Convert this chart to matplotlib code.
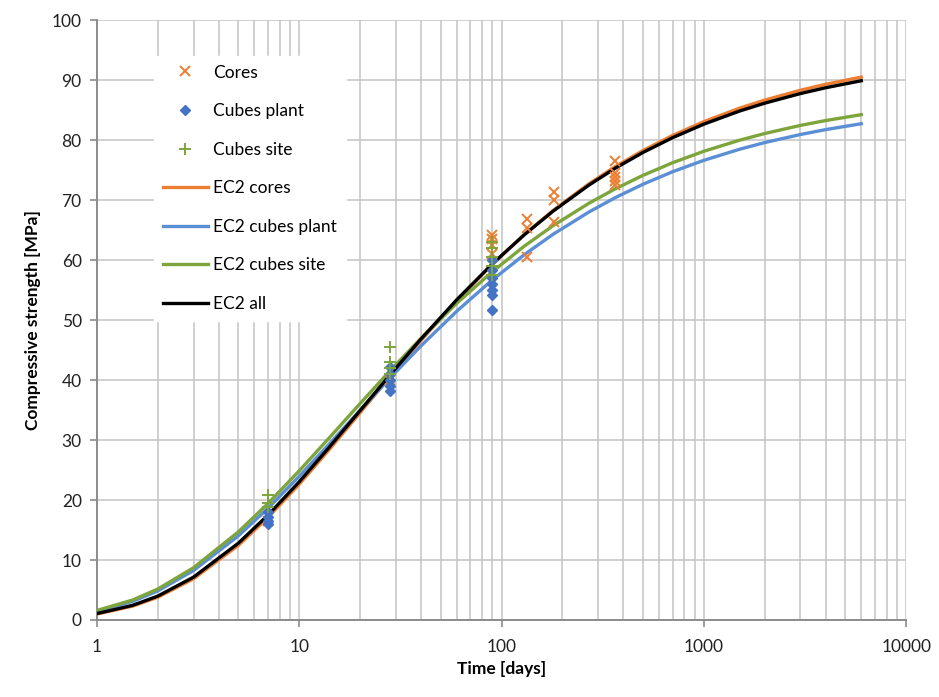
import matplotlib
matplotlib.use("Agg")
import matplotlib.pyplot as plt
from matplotlib.ticker import LogLocator, FixedLocator, NullFormatter

plt.rcParams['font.family'] = ['Lato', 'DejaVu Sans']

# ---- measured points ----
cores_t = [7, 28, 90, 90, 90, 90, 134, 134, 134, 181, 181, 181, 365, 365, 365, 365, 365]
cores_v = [16.5, 40.0, 64.2, 63.5, 62.5, 61.0, 66.8, 65.3, 60.5, 71.3, 70.0, 66.3, 76.5, 74.5, 73.8, 73.2, 72.6]

plant_t = [7, 7, 7, 7, 28, 28, 28, 28, 28, 90, 90, 90, 90, 90, 90, 90]
plant_v = [18.0, 17.2, 16.5, 16.0, 42.2, 41.0, 40.0, 39.0, 38.2, 60.0, 58.3, 57.0, 56.0, 55.0, 54.2, 51.7]

site_t = [7, 7, 7, 28, 28, 28, 28, 90, 90, 90, 90, 90]
site_v = [20.8, 19.5, 18.8, 45.5, 43.0, 42.0, 41.0, 63.0, 62.0, 60.5, 59.0, 57.5]

# ---- EC2 curves ----
curve_t = [1, 1.5, 2, 3, 5, 7, 10, 14, 20, 28, 40, 60, 90, 130, 180, 270, 365,
           500, 700, 1000, 1500, 2000, 3000, 4000, 6000]
ec2_cores = [1.00, 2.31, 3.80, 6.87, 12.45, 17.09, 22.65, 28.33, 34.58, 40.50, 46.63,
             53.24, 59.32, 64.31, 68.30, 72.71, 75.59, 78.27, 80.78, 83.09, 85.33,
             86.68, 88.32, 89.31, 90.51]
ec2_plant = [1.47, 3.10, 4.85, 8.25, 14.03, 18.62, 23.97, 29.27, 34.98, 40.30, 45.72,
             51.47, 56.70, 60.95, 64.32, 68.01, 70.42, 72.65, 74.73, 76.64, 78.48,
             79.60, 80.94, 81.76, 82.74]
ec2_site = [1.59, 3.33, 5.17, 8.71, 14.69, 19.41, 24.88, 30.29, 36.10, 41.50, 46.98,
            52.80, 58.07, 62.37, 65.76, 69.47, 71.89, 74.13, 76.23, 78.15, 79.99,
            81.11, 82.46, 83.27, 84.25]
ec2_all = [1.07, 2.44, 3.99, 7.14, 12.81, 17.48, 23.05, 28.72, 34.93, 40.80, 46.86,
           53.38, 59.36, 64.27, 68.18, 72.50, 75.33, 77.95, 80.41, 82.67, 84.85,
           86.17, 87.77, 88.74, 89.91]

x_ticks = [1, 10, 100, 1000, 10000]
y_ticks = list(range(0, 101, 10))

ORANGE = '#ED7D31'
BLUE_L = '#5B8FD5'
BLUE_M = '#4472C4'
GREEN = '#7DA53C'
GRID = '#C8C8C8'
AXC = '#8C8C8C'

fig = plt.figure(figsize=(9.39, 6.97), dpi=100)
ax = fig.add_axes([0.1033, 0.1105, 0.8617, 0.8605])

ax.plot(cores_t, cores_v, linestyle='none', marker='x', color=ORANGE, markersize=7,
        markeredgewidth=1.4, label='Cores', zorder=5)
ax.plot(plant_t, plant_v, linestyle='none', marker='D', color=BLUE_M, markersize=5,
        label='Cubes plant', zorder=5)
ax.plot(site_t, site_v, linestyle='none', marker='+', color=GREEN, markersize=9,
        markeredgewidth=1.4, label='Cubes site', zorder=5)

ax.plot(curve_t, ec2_cores, color=ORANGE, lw=2.4, label='EC2 cores', zorder=3)
ax.plot(curve_t, ec2_plant, color=BLUE_L, lw=2.4, label='EC2 cubes plant', zorder=3)
ax.plot(curve_t, ec2_site, color=GREEN, lw=2.4, label='EC2 cubes site', zorder=3)
ax.plot(curve_t, ec2_all, color='black', lw=2.4, label='EC2 all', zorder=4)

ax.set_xscale('log')
ax.set_xlim(1, 10000)
ax.set_ylim(0, 100)
ax.xaxis.set_major_locator(FixedLocator(x_ticks))
ax.set_xticklabels([str(v) for v in x_ticks])
ax.xaxis.set_minor_locator(LogLocator(base=10, subs=range(2, 10)))
ax.xaxis.set_minor_formatter(NullFormatter())
ax.set_yticks(y_ticks)

ax.grid(True, which='major', color=GRID, lw=1.2)
ax.grid(True, which='minor', axis='x', color=GRID, lw=1.2)
ax.set_axisbelow(True)

for s in ['top', 'right']:
    ax.spines[s].set_visible(False)
for s in ['left', 'bottom']:
    ax.spines[s].set_color(AXC)
    ax.spines[s].set_linewidth(1.4)

ax.tick_params(axis='both', which='major', length=5, width=1.2, color=AXC,
               labelsize=12.5, labelcolor='#222222', pad=6)
ax.tick_params(axis='x', which='minor', length=0)
ax.tick_params(axis='x', which='major', pad=9)

ax.set_xlabel('Time [days]', fontsize=12.5, fontweight='bold', labelpad=4)
ax.set_ylabel('Compressive strength [MPa]', fontsize=12.5, fontweight='bold', labelpad=8)

leg = ax.legend(loc='upper left', bbox_to_anchor=(0.06, 0.955), fontsize=12.5,
                frameon=True, fancybox=False, framealpha=1.0, edgecolor='white',
                labelspacing=1.3, handlelength=2.6, handletextpad=0.3,
                borderpad=0.5)
leg.set_zorder(10)

fig.savefig('out.png', dpi=100)
